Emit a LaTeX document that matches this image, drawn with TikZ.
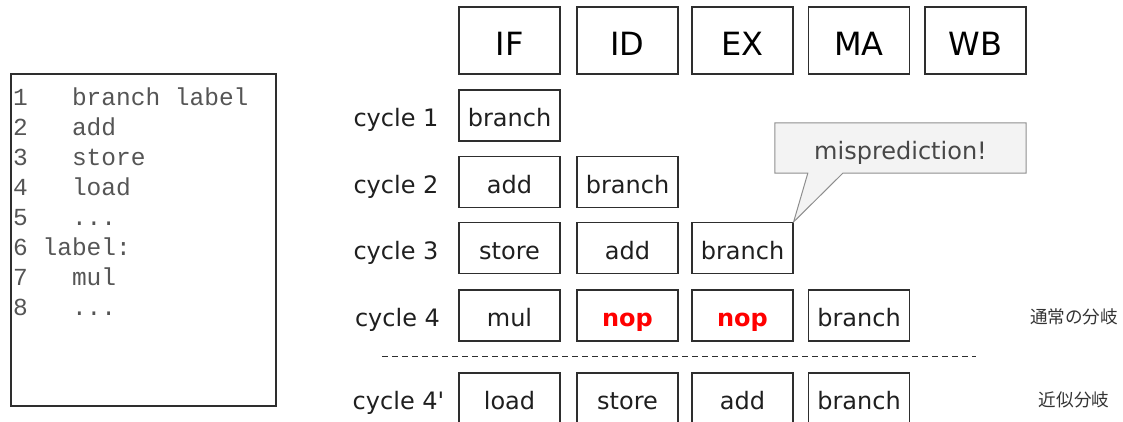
\documentclass[tikz,border=0pt]{standalone}
\usepackage{fontspec}
\setmainfont{DejaVu Sans}
\newfontfamily\codefont{Liberation Mono}
\newfontfamily\jpfont{Noto Sans CJK JP}
\usepackage{xcolor}
\usepackage{tikz}
\usetikzlibrary{calc}
\definecolor{boxline}{HTML}{2E2E2E}
\definecolor{codegray}{HTML}{555555}
\definecolor{balloon}{HTML}{F3F3F3}
\definecolor{balloond}{HTML}{8E8E8E}
\definecolor{nopred}{HTML}{FF0000}
\tikzset{
  % pipeline stage heads and per-cycle slots
  stage/.style = {rectangle, draw=boxline, line width=1.2pt, inner sep=0pt,
                  minimum width=101pt, minimum height=67pt,
                  text height=29pt, text depth=0pt,
                  font=\fontsize{32}{38}\selectfont},
  slot/.style  = {rectangle, draw=boxline, line width=1.2pt, inner sep=0pt,
                  minimum width=101pt, minimum height=51pt, text=black!88,
                  text height=24pt, text depth=1.6pt,
                  font=\fontsize{24}{29}\selectfont},
  nop/.style   = {slot, text=nopred, font=\fontsize{24}{29}\selectfont\bfseries},
  cyc/.style   = {inner sep=0pt, text=black!88, text height=24pt, text depth=1.6pt,
                  font=\fontsize{24}{29}\selectfont},
  code/.style  = {inner sep=0pt, anchor=base west, text=codegray,
                  font=\codefont\fontsize{24.5}{29.7}\selectfont},
  note/.style  = {inner sep=0pt, text=black!80, font=\jpfont\fontsize{17.6}{21}\selectfont},
  sep/.style   = {dashed, dash pattern=on 6pt off 4pt, line width=0.9pt, boxline},
}

\begin{document}
\begin{tikzpicture}[x=1pt,y=-1pt]
\useasboundingbox (0,0) rectangle (1123,421);

% source listing
\node[draw=boxline, line width=1.4pt, minimum width=265pt, minimum height=332pt,
      inner sep=0pt] (listing) at (143.5,240) {};
\node[code] (l1) at (13,105) {1\ \ \ branch label};
\node[code] (l2) at (13,135) {2\ \ \ add};
\node[code] (l3) at (13,165) {3\ \ \ store};
\node[code] (l4) at (13,195) {4\ \ \ load};
\node[code] (l5) at (13,225) {5\ \ \ ...};
\node[code] (l6) at (13,255) {6 label:};
\node[code] (l7) at (13,285) {7\ \ \ mul};
\node[code] (l8) at (13,315) {8\ \ \ ...};

% stage heads
\node[stage] (IF) at (509.5,40.5) {IF};
\node[stage] (ID) at (627.5,40.5) {ID};
\node[stage] (EX) at (742.5,40.5) {EX};
\node[stage] (MA) at (859,40.5)   {MA};
\node[stage] (WB) at (975.5,40.5) {WB};

% cycles
\node[cyc] (c1) at (396,115.5) {cycle 1};
\node[slot] (a1) at (IF|-c1) {branch};

\node[cyc] (c2) at (396,182) {cycle 2};
\node[slot] (a2) at (IF|-c2) {add};
\node[slot] (b2) at (ID|-c2) {branch};

\node[cyc] (c3) at (396,248) {cycle 3};
\node[slot] (a3) at (IF|-c3) {store};
\node[slot] (b3) at (ID|-c3) {add};
\node[slot] (e3) at (EX|-c3) {branch};

\node[cyc] (c4) at (397.5,315.5) {cycle 4};
\node[slot] (a4) at (IF|-c4) {mul};
\node[nop]  (b4) at (ID|-c4) {nop};
\node[nop]  (e4) at (EX|-c4) {nop};
\node[slot] (m4) at (MA|-c4) {branch};

\coordinate (sl) at (382,356);
\coordinate (sr) at (976,356);
\draw[sep] (sl) -- (sr);

\node[cyc] (c5) at (398.5,398.5) {cycle 4\textquotesingle};
\node[slot] (a5) at (IF|-c5) {load};
\node[slot] (b5) at (ID|-c5) {store};
\node[slot] (e5) at (EX|-c5) {add};
\node[slot] (m5) at (MA|-c5) {branch};

% side notes
\node[note] (n4) at (1074,317) {通常の分岐};
\node[note] (n5) at (1074,400) {近似分岐};

% balloon
\node[minimum width=251pt, minimum height=50pt, inner sep=0pt] (miss) at (900.5,148) {};
\draw[balloond, fill=balloon, line width=1pt]
  (miss.north west) -- (miss.north east) -- (miss.south east)
  -- ($(miss.south west)+(68,0)$) -- (e3.north east)
  -- ($(miss.south west)+(33,0)$) -- (miss.south west) -- cycle;
\node[text=black!72, text height=24pt, text depth=1.6pt,
      font=\fontsize{24}{29}\selectfont] at (miss) {misprediction!};
\end{tikzpicture}
\end{document}
